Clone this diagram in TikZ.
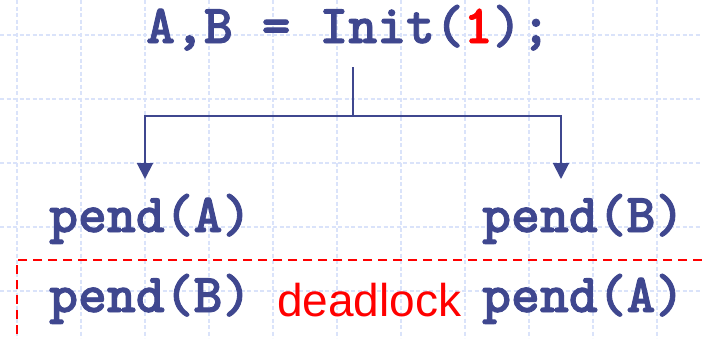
\documentclass[tikz,border=0pt]{standalone}
\usepackage{fontspec}
\setmainfont{Liberation Sans}
\newfontfamily\codefont{Latin Modern Mono Light}[BoldFeatures={FakeBold=1.6}]
\usetikzlibrary{arrows.meta}
\definecolor{codeblue}{HTML}{3F478F}
\definecolor{gridblue}{HTML}{DAE3FA}
\definecolor{alertred}{HTML}{FF0000}
\tikzset{
  code/.style={inner sep=0pt, anchor=base west, text=codeblue,
    font=\codefont\bfseries\fontsize{55}{55}\selectfont},
  alert/.style={inner sep=0pt, anchor=base west, text=alertred,
    font=\fontsize{46}{46}\selectfont},
  gridline/.style={gridblue, line width=1.3pt, dash pattern=on 4pt off 2.5pt},
  link/.style={codeblue, line width=2pt},
  linkarrow/.style={link, -{Triangle[width=16pt,length=16pt]}},
  region/.style={alertred, line width=2pt, dash pattern=on 9pt off 6pt}
}
\begin{document}
\begin{tikzpicture}[x=1pt,y=-1pt]
  \useasboundingbox (0,0) rectangle (702,338);
  \fill[white] (0,0) rectangle (702,338);

  % background grid
  \foreach \gx in {17,81,...,657} \draw[gridline] (\gx,0) -- (\gx,338);
  \foreach \gy in {35,99,...,291} \draw[gridline] (0,\gy) -- (702,\gy);

  % statements
  \node[code] (init) at (146,43) {A,B = Init(\textcolor{alertred}{1});};
  \node[code] (pA1) at (49,232) {pend(A)};
  \node[code] (pB1) at (482,232) {pend(B)};
  \node[code] (pB2) at (49,312) {pend(B)};
  \node[code] (pA2) at (482,312) {pend(A)};
  \node[alert] (dl) at (277,316) {deadlock};

  % fork from the initialisation to both threads
  \coordinate (stem) at (353,67);
  \coordinate (fork) at (353,116);
  \coordinate (tipA) at (145,179);
  \coordinate (tipB) at (561,179);
  \draw[link] (stem) -- (fork);
  \draw[linkarrow] (fork) -| (tipA);
  \draw[linkarrow] (fork) -| (tipB);

  % deadlock region
  \coordinate (rc) at (17,260);
  \coordinate (rr) at (702,260);
  \coordinate (rb) at (17,338);
  \draw[region] (rr) -- (rc) -- (rb);
\end{tikzpicture}
\end{document}
